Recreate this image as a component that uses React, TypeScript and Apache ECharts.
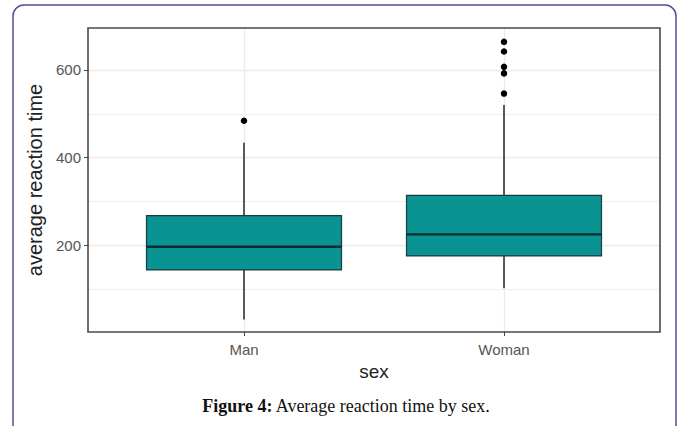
import React, { useEffect, useRef } from "react";
import * as echarts from "echarts";

// ---- data ----
const categories = ["Man", "Woman"];
const categoryPos = [1, 2];
const whiskerLow = [31, 102];
const quartile1 = [144, 176];
const medians = [197, 225];
const quartile3 = [268, 314];
const whiskerHigh = [434, 520];
const outlierX = [1, 2, 2, 2, 2, 2];
const outlierY = [484, 664, 642, 607, 592, 546];
const yTicks = [200, 400, 600];
const yMinorGrid = [100, 300, 500];

const BOX_WIDTH = 0.75;

export default function App() {
  const ref = useRef<HTMLDivElement>(null);

  useEffect(() => {
    if (!ref.current) return;
    const chart = echarts.init(ref.current, null, { renderer: "svg" });

    const boxData = categoryPos.map((x, i) => [
      x,
      whiskerLow[i],
      quartile1[i],
      medians[i],
      quartile3[i],
      whiskerHigh[i],
    ]);
    const outlierData = outlierX.map((x, i) => [x, outlierY[i]]);

    const gridLineStyle = { color: "#ebebeb", type: "solid" as const };

    chart.setOption({
      animation: false,
      backgroundColor: "#ffffff",
      textStyle: { fontFamily: "Liberation Sans, Arial, sans-serif" },
      grid: {
        left: 88,
        top: 28,
        width: 572,
        height: 304,
        show: true,
        borderColor: "#4a4a4a",
        borderWidth: 1.6,
        backgroundColor: "transparent",
        z: 3,
      },
      xAxis: {
        type: "value",
        min: 0.4,
        max: 2.6,
        name: "sex",
        nameLocation: "middle",
        nameGap: 27,
        nameTextStyle: { fontSize: 19, color: "#222" },
        axisLine: { show: false },
        splitLine: { show: false },
        axisTick: {
          show: true,
          customValues: categoryPos,
          length: 4,
          lineStyle: { color: "#444", width: 1 },
        },
        axisLabel: {
          customValues: categoryPos,
          formatter: (v: number) => categories[Math.round(v) - 1] ?? "",
          fontSize: 15,
          color: "#555",
          margin: 10,
        },
      },
      yAxis: {
        type: "value",
        min: 2.5,
        max: 695.5,
        name: "average reaction time",
        nameLocation: "middle",
        nameGap: 33,
        nameRotate: 90,
        nameTextStyle: { fontSize: 20, color: "#222" },
        axisLine: { show: false },
        splitLine: { show: false },
        axisTick: {
          show: true,
          customValues: yTicks,
          length: 4,
          lineStyle: { color: "#444", width: 1 },
        },
        axisLabel: {
          customValues: yTicks,
          fontSize: 15,
          color: "#555",
          margin: 7,
        },
      },
      graphic: [
        {
          type: "rect",
          z: -10,
          shape: { x: 13, y: 5, width: 663, height: 470, r: 11 },
          style: { fill: "none", stroke: "#574b96", lineWidth: 1.5 },
        },
        {
          type: "text",
          x: 346,
          y: 406,
          style: {
            text: "{b|Figure 4:} {r|Average reaction time by sex.}",
            align: "center",
            verticalAlign: "middle",
            rich: {
              b: {
                fontFamily: "Liberation Serif, Times New Roman, serif",
                fontWeight: "bold",
                fontSize: 18,
                fill: "#111",
              },
              r: {
                fontFamily: "Liberation Serif, Times New Roman, serif",
                fontSize: 18,
                fill: "#111",
              },
            },
          },
        },
      ],
      series: [
        {
          type: "line",
          data: [],
          z: 0,
          silent: true,
          markLine: {
            silent: true,
            z: 0,
            symbol: "none",
            label: { show: false },
            animation: false,
            data: [
              ...yMinorGrid.map((v) => ({
                yAxis: v,
                lineStyle: { ...gridLineStyle, width: 0.8 },
              })),
              ...yTicks.map((v) => ({
                yAxis: v,
                lineStyle: { ...gridLineStyle, width: 1.3 },
              })),
              ...categoryPos.map((v) => ({
                xAxis: v,
                lineStyle: { ...gridLineStyle, width: 1.3 },
              })),
            ],
          },
        },
        {
          type: "custom",
          z: 2,
          data: boxData,
          encode: { x: 0, y: [1, 2, 3, 4, 5] },
          renderItem: (params: any, api: any) => {
            const x = api.value(0);
            const lo = api.coord([x, api.value(1)]);
            const q1 = api.coord([x, api.value(2)]);
            const med = api.coord([x, api.value(3)]);
            const q3 = api.coord([x, api.value(4)]);
            const hi = api.coord([x, api.value(5)]);
            const w = api.size([BOX_WIDTH, 0])[0];
            const whisker = { stroke: "#333333", lineWidth: 1.6 };
            return {
              type: "group",
              children: [
                {
                  type: "line",
                  shape: { x1: lo[0], y1: lo[1], x2: q1[0], y2: q1[1] },
                  style: whisker,
                },
                {
                  type: "line",
                  shape: { x1: q3[0], y1: q3[1], x2: hi[0], y2: hi[1] },
                  style: whisker,
                },
                {
                  type: "rect",
                  shape: {
                    x: q3[0] - w / 2,
                    y: q3[1],
                    width: w,
                    height: q1[1] - q3[1],
                  },
                  style: { fill: "#0a9393", stroke: "#1d3b3b", lineWidth: 1.2 },
                },
                {
                  type: "line",
                  shape: {
                    x1: med[0] - w / 2,
                    y1: med[1],
                    x2: med[0] + w / 2,
                    y2: med[1],
                  },
                  style: { stroke: "#102c2c", lineWidth: 2.4 },
                },
              ],
            };
          },
        },
        {
          type: "scatter",
          z: 4,
          data: outlierData,
          symbol: "circle",
          symbolSize: 6.5,
          itemStyle: { color: "#000", opacity: 1 },
        },
      ],
    });

    return () => chart.dispose();
  }, []);

  return (
    <div
      ref={ref}
      style={{ position: "fixed", left: 0, top: 0, width: 679, height: 426 }}
    />
  );
}
